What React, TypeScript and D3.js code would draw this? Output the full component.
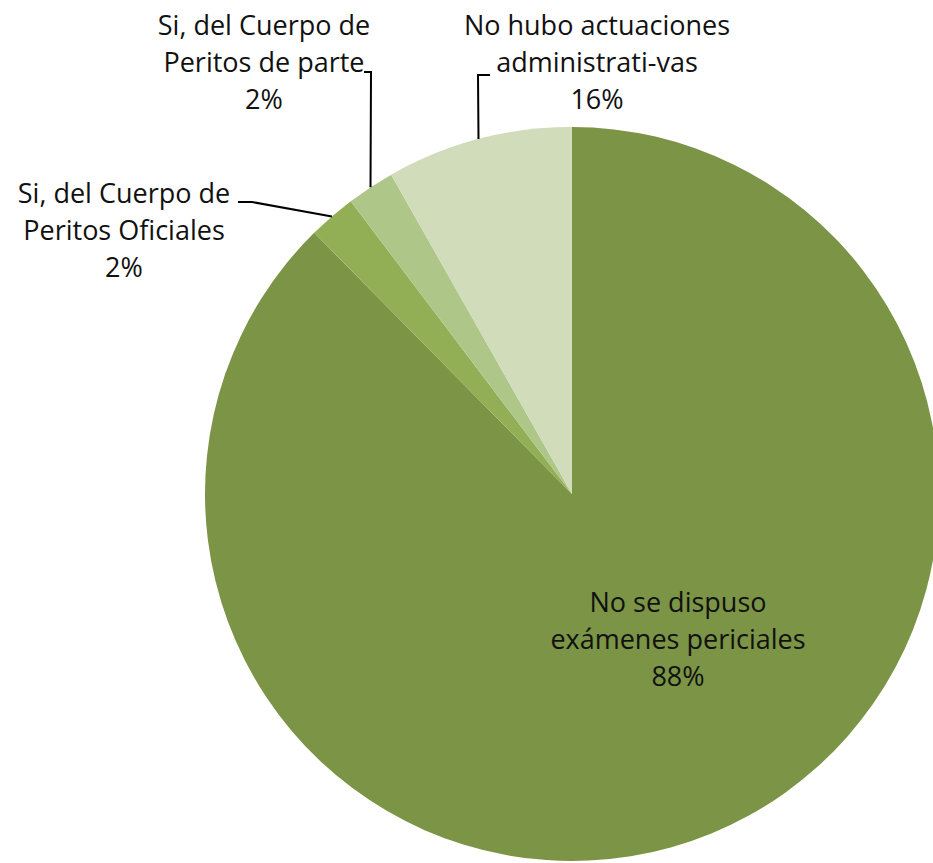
import React, { useEffect, useRef } from 'react';
import * as d3 from 'd3';

// slice order runs clockwise from 12 o'clock
const categories = [
  ['No se dispuso', 'exámenes periciales'],
  ['Si, del Cuerpo de', 'Peritos Oficiales'],
  ['Si, del Cuerpo de', 'Peritos de parte'],
  ['No hubo actuaciones', 'administrati-vas'],
];
const values = [87.6, 2.1, 2.1, 8.2];
const percentLabels = ['88%', '2%', '2%', '16%'];
const colors = ['#7b9445', '#92af55', '#afc689', '#d0dcba'];

const W = 933;
const H = 863;

// label anchors (text center x, first line y) and leader elbows
const labelLayout = [
  { x: 678, y: 612, leader: null as null | [number, number][] },
  { x: 124, y: 203, leader: [[238, 202], [252, 202]] },
  { x: 264, y: 35, leader: [[364, 72], [371, 72]] },
  { x: 597, y: 35, leader: [[490, 75], [478, 75]] },
];

export default function App() {
  const ref = useRef<SVGSVGElement>(null);

  useEffect(() => {
    if (!ref.current) return;
    const svg = d3.select(ref.current);
    svg.selectAll('*').remove();

    const cx = 572, cy = 494, r = 367;
    const g = svg.append('g').attr('transform', `translate(${cx},${cy})`);

    const pie = d3.pie<number>().sort(null).value(d => d);
    const arcs = pie(values);
    const arc = d3.arc<d3.PieArcDatum<number>>().innerRadius(0).outerRadius(r);

    g.selectAll('path')
      .data(arcs)
      .enter()
      .append('path')
      .attr('d', arc)
      .attr('fill', (_, i) => colors[i]);

    // leader lines
    arcs.forEach((a, i) => {
      const lay = labelLayout[i];
      if (!lay.leader) return;
      const mid = (a.startAngle + a.endAngle) / 2;
      const ex = cx + Math.sin(mid) * r;
      const ey = cy - Math.cos(mid) * r;
      const pts: [number, number][] = [...lay.leader, [ex, ey]];
      svg.append('path')
        .attr('d', d3.line()(pts))
        .attr('fill', 'none')
        .attr('stroke', '#000')
        .attr('stroke-width', 2);
    });

    // labels
    categories.forEach((lines, i) => {
      const lay = labelLayout[i];
      const t = svg.append('text')
        .attr('text-anchor', 'middle')
        .attr('font-family', '"Open Sans", Lato, sans-serif')
        .attr('font-size', 27)
        .attr('fill', '#111');
      [...lines, percentLabels[i]].forEach((s, k) => {
        t.append('tspan')
          .attr('x', lay.x)
          .attr('y', lay.y + k * 37)
          .text(s);
      });
    });
  }, []);

  return (
    <svg
      ref={ref}
      width={W}
      height={H}
      style={{ position: 'absolute', left: 0, top: 0, display: 'block', background: '#fff' }}
    />
  );
}
